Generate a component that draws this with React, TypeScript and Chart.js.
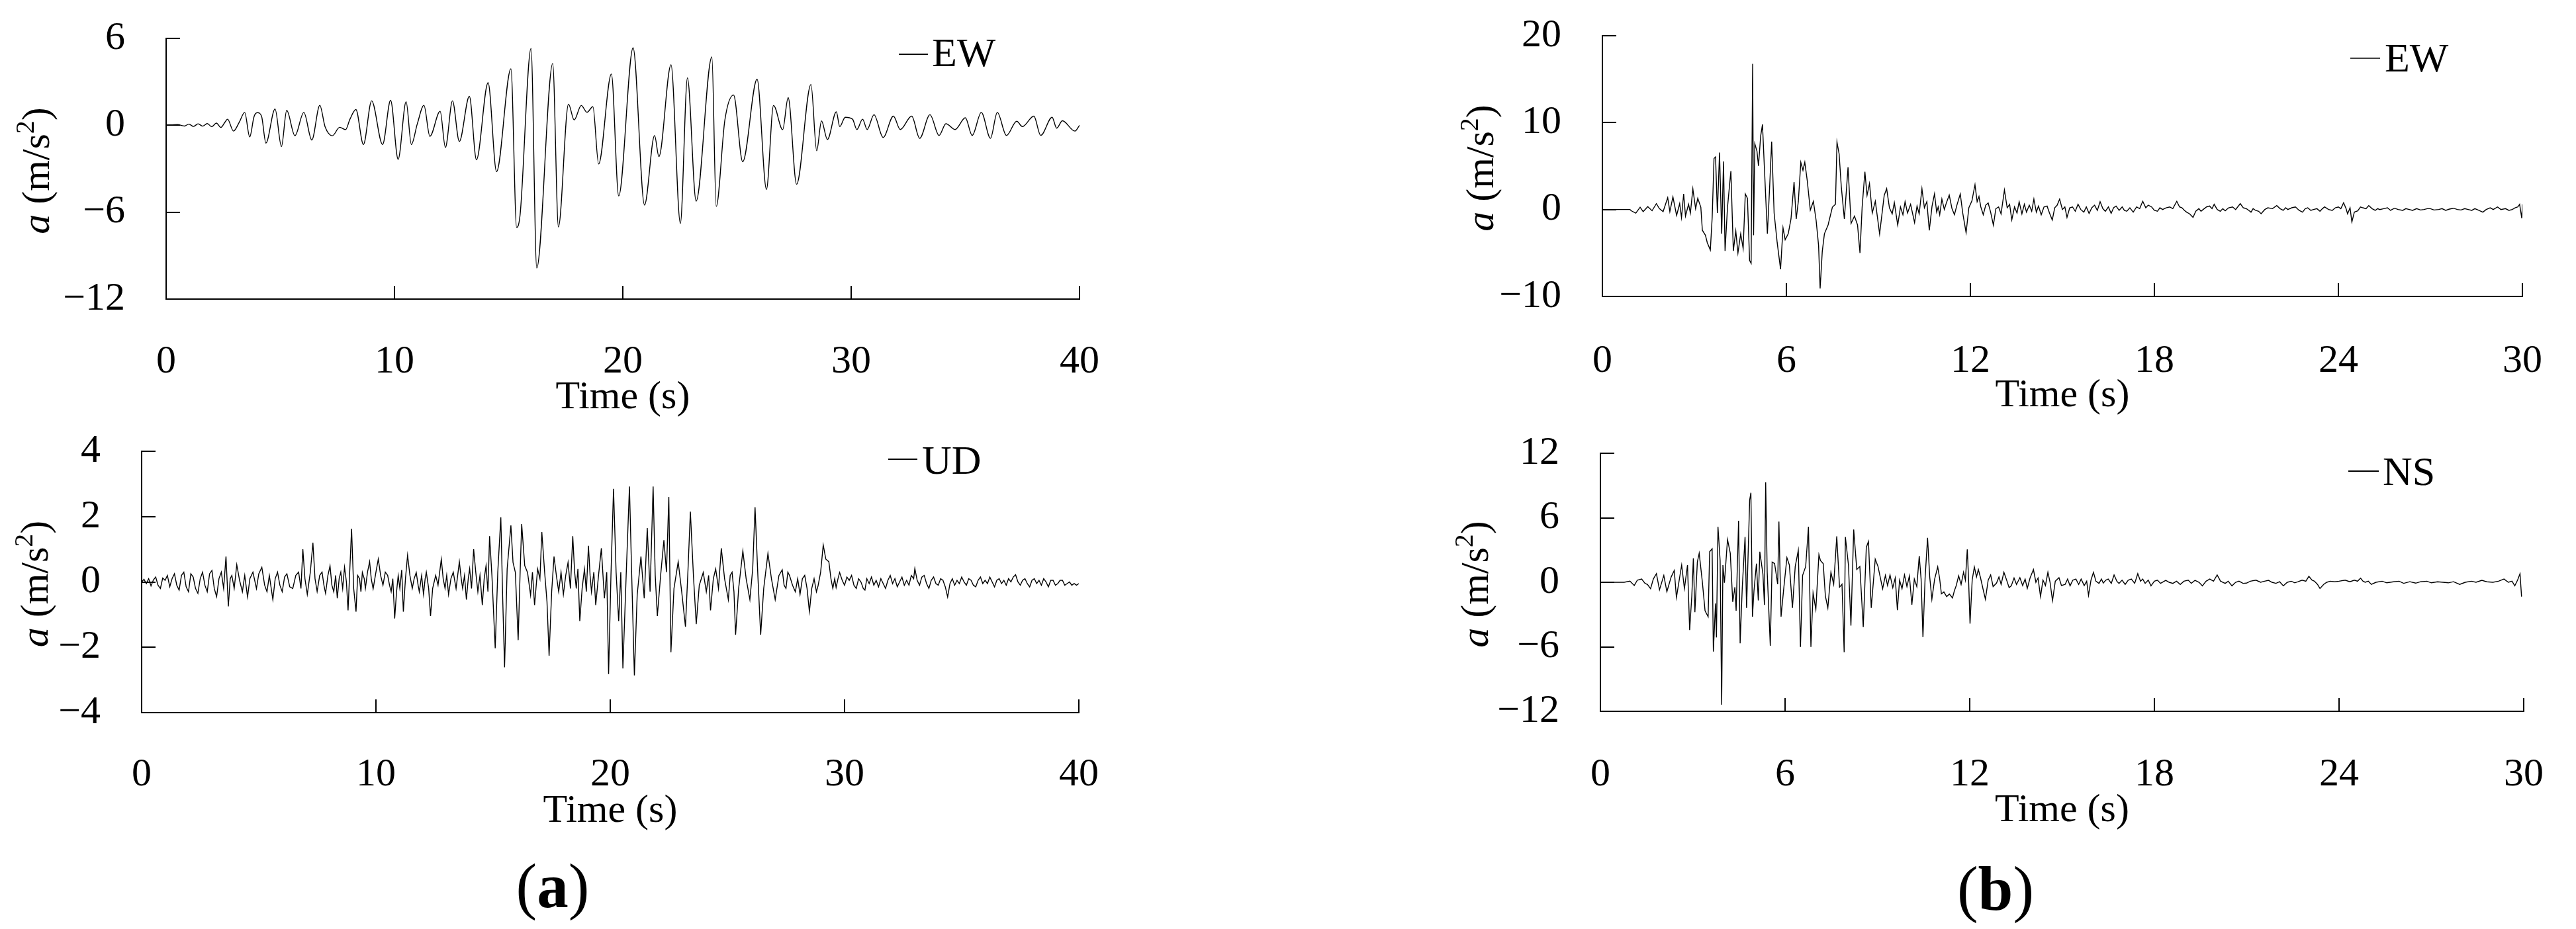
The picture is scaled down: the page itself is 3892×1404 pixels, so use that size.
import React, { useEffect, useRef } from 'react';
import { Chart, registerables } from 'chart.js';

Chart.register(...registerables);

const SERIF = "'Liberation Serif', 'Times New Roman', Times, serif";

// ---------- data: [time (s), acceleration (m/s^2)] ----------
const ewA: [number, number][] = [
  [0, 0], [0.5, 0.05], [0.8, -0.05], [1.0, 0.08], [1.2, -0.08], [1.4, 0.1], [1.6, -0.06], [1.8, 0.12], [2.0, -0.1],
  [2.2, 0.15], [2.4, -0.15], [2.57, 0.2], [2.69, 0.42], [2.95, -0.4], [3.2, 0.2], [3.44, 0.89], [3.66, -0.8], [3.85, 0.6],
  [4.0, 0.87], [4.18, 0.62], [4.37, -1.23], [4.77, 1.13], [5.05, -1.47], [5.28, 1.03], [5.64, -0.72], [6.03, 0.89],
  [6.38, -1.02], [6.73, 1.38], [6.96, -0.1], [7.28, -0.72], [7.6, -0.14], [7.86, -0.3], [8.05, 0.42], [8.31, 1.09],
  [8.64, -1.33], [9.0, 1.69], [9.48, -1.33], [9.83, 1.73], [10.16, -2.35], [10.51, 1.63], [10.74, -1.33], [11.0, 0.1],
  [11.29, 1.38], [11.55, -0.76], [12.0, 0.97], [12.23, -1.53], [12.54, 1.69], [12.84, -1.12], [13.28, 2.0], [13.59, -2.38],
  [14.1, 2.94], [14.47, -3.2], [15.1, 3.9], [15.35, -7.05], [15.5, -6.2], [15.98, 5.3], [16.23, -9.86], [16.93, 4.27],
  [17.18, -7.02], [17.62, 1.46], [17.87, 0.37], [18.18, 1.37], [18.43, 0.9], [18.69, 1.28], [18.94, -2.67], [19.5, 3.54],
  [19.82, -4.88], [20.45, 5.35], [20.95, -5.51], [21.39, -0.71], [21.58, -2.16], [22.11, 4.18], [22.52, -6.78],
  [22.83, 3.27], [23.21, -5.24], [23.9, 4.72], [24.09, -5.6], [24.47, 0.37], [24.85, 2.09], [25.25, -2.52], [25.88, 3.18],
  [26.29, -4.43], [26.6, 1.37], [27.0, -0.3], [27.24, 1.91], [27.61, -4.07], [28.24, 2.82], [28.49, -1.76], [28.7, 0.3],
  [28.96, -0.98], [29.35, 0.93], [29.5, -0.09], [29.74, 0.55], [30.06, 0.42], [30.25, -0.29], [30.5, 0.42], [30.7, -0.29],
  [31.0, 0.73], [31.4, -0.84], [31.85, 0.63], [32.15, -0.29], [32.65, 0.63], [33.0, -0.9], [33.45, 0.73], [33.85, -0.7],
  [34.15, 0.11], [34.55, -0.29], [35.0, 0.52], [35.3, -0.7], [35.7, 0.89], [36.1, -0.9], [36.4, 0.89], [36.8, -0.7],
  [37.25, 0.28], [37.5, -0.09], [38.0, 0.63], [38.3, -0.7], [38.8, 0.55], [39.0, -0.2], [39.25, 0.31], [39.8, -0.4], [40.0, 0.0],
];

const udA: [number, number][] = [
  [0, 0], [0.1, 0.08], [0.2, -0.05], [0.3, 0.1], [0.4, -0.12], [0.5, 0.06], [0.6, 0.15], [0.7, -0.1], [0.8, -0.2],
  [0.9, 0.12], [1.0, 0.05], [1.1, 0.2], [1.2, -0.15], [1.3, 0.1], [1.4, 0.25], [1.5, -0.1], [1.6, -0.25], [1.7, 0.2],
  [1.8, 0.3], [1.9, -0.15], [2.0, -0.3], [2.1, 0.25], [2.2, 0.15], [2.3, -0.2], [2.4, -0.35], [2.5, 0.1], [2.6, 0.3],
  [2.7, -0.1], [2.8, -0.3], [2.9, 0.25], [3.0, 0.35], [3.1, -0.2], [3.2, -0.45], [3.3, 0.1], [3.4, 0.3], [3.5, -0.2],
  [3.6, 0.78], [3.7, -0.75], [3.78, 0.1], [3.85, 0.2], [3.95, -0.2], [4.06, 0.53], [4.18, 0.05], [4.3, -0.3], [4.4, 0.2],
  [4.52, -0.46], [4.62, 0.1], [4.75, 0.3], [4.9, -0.2], [5.0, 0.25], [5.13, 0.45], [5.25, -0.1], [5.35, -0.3], [5.45, 0.2],
  [5.6, -0.54], [5.7, 0.1], [5.8, 0.3], [5.9, -0.1], [6.0, -0.3], [6.1, 0.15], [6.2, 0.25], [6.32, -0.15], [6.45, -0.2],
  [6.58, 0.2], [6.7, 0.3], [6.8, -0.2], [6.88, 1.0], [6.97, 0.1], [7.07, -0.38], [7.2, 0.3], [7.31, 1.2], [7.4, 0.1],
  [7.49, -0.29], [7.6, 0.2], [7.7, 0.3], [7.78, -0.1], [7.85, -0.35], [7.95, 0.2], [8.04, 0.49], [8.12, -0.1], [8.2, -0.3],
  [8.28, 0.2], [8.35, -0.5], [8.43, 0.1], [8.5, 0.3], [8.58, -0.2], [8.66, 0.45], [8.74, 0.0], [8.81, -0.87], [8.88, 0.3],
  [8.96, 1.63], [9.05, -0.2], [9.15, -0.91], [9.22, 0.2], [9.3, 0.1], [9.36, -0.3], [9.42, 0.29], [9.5, 0.1], [9.55, -0.2],
  [9.64, 0.3], [9.73, 0.62], [9.8, 0.1], [9.88, -0.21], [10.0, 0.3], [10.1, 0.7], [10.2, 0.2], [10.3, -0.1], [10.4, 0.3],
  [10.5, 0.2], [10.58, -0.1], [10.65, -0.3], [10.72, 0.1], [10.8, -1.12], [10.88, -0.3], [10.95, 0.2], [11.02, -0.2],
  [11.1, 0.37], [11.17, -0.91], [11.26, 0.1], [11.35, 0.82], [11.45, 0.2], [11.55, -0.2], [11.63, 0.1], [11.72, 0.29],
  [11.8, -0.1], [11.85, -0.3], [11.95, 0.2], [12.03, -0.38], [12.1, 0.1], [12.15, 0.3], [12.25, -0.2], [12.33, -1.04],
  [12.42, -0.2], [12.55, 0.2], [12.65, -0.1], [12.79, 0.7], [12.87, 0.1], [12.95, -0.2], [13.02, 0.2], [13.1, -0.38],
  [13.2, 0.1], [13.3, 0.3], [13.42, -0.2], [13.56, 0.62], [13.64, 0.1], [13.7, -0.2], [13.78, 0.2], [13.86, -0.54],
  [13.94, 0.1], [14.0, 0.4], [14.08, -0.2], [14.17, 1.0], [14.26, 0.3], [14.35, -0.3], [14.44, 0.2], [14.54, -0.71],
  [14.62, 0.1], [14.7, 0.5], [14.78, -0.3], [14.85, 1.4], [14.95, 0.2], [15.09, -2.03], [15.2, 0.3], [15.33, 1.98],
  [15.41, -0.5], [15.49, -2.61], [15.6, 0.4], [15.76, 1.73], [15.85, 0.6], [15.95, 0.29], [16.07, -1.78], [16.15, 0.2],
  [16.22, 1.77], [16.35, 0.5], [16.47, 0.29], [16.6, -0.4], [16.68, 0.3], [16.77, -0.71], [16.9, 0.4], [17.0, 0.1],
  [17.08, 1.53], [17.2, 0.3], [17.3, -0.6], [17.39, -2.26], [17.5, -0.3], [17.6, 0.78], [17.7, 0.2], [17.8, -0.3],
  [17.9, 0.3], [18.0, -0.38], [18.1, 0.2], [18.2, 0.6], [18.3, -0.2], [18.4, 1.4], [18.48, 0.3], [18.55, -0.2], [18.62, 0.4],
  [18.7, -1.2], [18.8, -0.2], [18.9, 0.4], [18.98, -0.3], [19.07, 1.11], [19.14, 0.2], [19.2, -0.3], [19.3, 0.3],
  [19.38, -0.71], [19.5, 0.2], [19.62, 1.03], [19.75, -0.5], [19.85, 0.3], [19.93, -2.82], [20.03, 0.2], [20.14, 2.85],
  [20.25, 0.3], [20.36, -1.2], [20.45, 0.3], [20.54, -2.65], [20.68, 0.2], [20.82, 2.92], [20.92, 0.1], [21.03, -2.86],
  [21.15, -0.4], [21.31, 0.78], [21.45, -0.5], [21.58, 1.65], [21.7, -0.3], [21.83, 2.92], [21.92, 0.2], [22.01, -1.04],
  [22.15, 0.2], [22.29, 1.28], [22.4, 0.3], [22.5, 2.6], [22.59, -2.15], [22.72, -0.2], [22.9, 0.62], [23.05, -0.3],
  [23.21, -1.37], [23.32, 0.4], [23.42, 2.15], [23.55, 0.2], [23.67, -1.29], [23.8, -0.1], [23.97, 0.29], [24.1, -0.3],
  [24.2, 0.2], [24.28, -0.87], [24.4, 0.1], [24.5, 0.4], [24.62, -0.2], [24.74, 1.03], [24.88, 0.1], [25.04, -0.54],
  [25.12, 0.2], [25.2, 0.3], [25.28, -0.3], [25.35, -1.62], [25.48, -0.2], [25.66, 0.95], [25.8, 0.1], [25.96, -0.54],
  [26.08, 0.4], [26.18, 2.29], [26.3, 0.2], [26.42, -1.62], [26.55, -0.2], [26.73, 0.87], [26.88, 0.1], [27.04, -0.54],
  [27.2, 0.2], [27.34, 0.37], [27.42, -0.1], [27.5, -0.2], [27.58, 0.3], [27.65, 0.2], [27.78, -0.1], [27.9, -0.3],
  [28.0, 0.1], [28.1, -0.38], [28.2, 0.1], [28.3, 0.2], [28.4, -0.2], [28.5, -0.91], [28.6, -0.2], [28.7, 0.1],
  [28.8, -0.3], [28.87, -0.12], [28.98, 0.3], [29.09, 1.13], [29.2, 0.7], [29.33, 0.62], [29.42, 0.1], [29.5, -0.2],
  [29.58, 0.1], [29.64, -0.17], [29.72, 0.1], [29.79, 0.29], [29.9, 0.05], [30.0, -0.1], [30.1, 0.15], [30.2, 0.05],
  [30.3, 0.2], [30.4, -0.1], [30.5, -0.2], [30.6, 0.1], [30.7, 0.0], [30.8, -0.2], [30.87, -0.25], [30.95, 0.1],
  [31.05, -0.05], [31.15, 0.15], [31.25, -0.1], [31.35, 0.05], [31.45, -0.15], [31.55, 0.1], [31.65, -0.05],
  [31.75, -0.2], [31.85, 0.05], [31.95, 0.2], [32.05, -0.05], [32.15, 0.1], [32.25, -0.15], [32.35, 0.0], [32.45, 0.15],
  [32.55, -0.1], [32.65, 0.05], [32.75, -0.1], [32.85, 0.2], [32.95, 0.1], [33.0, 0.41], [33.1, 0.05], [33.2, -0.1],
  [33.3, 0.15], [33.4, 0.2], [33.5, -0.05], [33.6, -0.2], [33.7, 0.05], [33.8, 0.15], [33.9, -0.05], [34.0, -0.1],
  [34.1, 0.1], [34.2, 0.05], [34.3, -0.15], [34.4, -0.46], [34.5, -0.05], [34.6, 0.1], [34.7, -0.1], [34.8, 0.05],
  [34.9, -0.05], [35.0, 0.15], [35.1, 0.0], [35.2, -0.1], [35.3, 0.1], [35.4, 0.05], [35.5, -0.1], [35.6, -0.15],
  [35.7, 0.05], [35.8, 0.15], [35.9, -0.05], [36.0, 0.05], [36.1, -0.05], [36.2, 0.15], [36.3, 0.0], [36.4, -0.15],
  [36.5, 0.05], [36.6, 0.1], [36.7, -0.05], [36.8, 0.05], [36.9, -0.1], [37.0, 0.1], [37.1, 0.0], [37.2, 0.15],
  [37.3, 0.22], [37.4, 0.0], [37.5, -0.1], [37.6, 0.05], [37.7, 0.1], [37.8, -0.05], [37.9, -0.15], [38.0, 0.05],
  [38.1, 0.1], [38.2, -0.05], [38.3, 0.05], [38.4, -0.1], [38.5, 0.1], [38.6, 0.0], [38.7, -0.15], [38.8, 0.05],
  [38.9, 0.05], [39.0, -0.1], [39.1, -0.05], [39.2, 0.05], [39.3, 0.05], [39.4, -0.1], [39.5, -0.05], [39.6, 0.0],
  [39.7, -0.1], [39.8, -0.05], [39.9, -0.1], [40.0, -0.05],
];

const ewB: [number, number][] = [
  [0, 0], [0.9, 0], [0.94, -0.14], [1.09, -0.41], [1.23, 0.27], [1.33, -0.24], [1.48, 0.34], [1.62, -0.14], [1.76, 0.68],
  [1.86, 0.1], [1.98, -0.24], [2.13, 1.36], [2.2, -0.24], [2.3, 1.46], [2.42, -0.68], [2.52, 0.68], [2.58, -0.92],
  [2.65, 1.8], [2.71, -0.75], [2.81, 0.61], [2.87, -0.41], [2.95, 2.38], [3.04, 0.1], [3.11, 1.29], [3.21, 0.27],
  [3.26, -2.38], [3.36, -2.96], [3.42, -3.81], [3.52, -4.66], [3.58, -0.92], [3.64, 5.88], [3.69, 6.05], [3.75, -0.41],
  [3.82, 6.56], [3.89, -2.79], [3.95, 5.54], [4.0, -4.76], [4.08, 0.27], [4.19, 4.42], [4.27, -4.76], [4.35, -2.45],
  [4.42, -5.0], [4.51, -2.79], [4.59, -4.49], [4.66, 1.8], [4.73, 1.29], [4.8, -5.85], [4.85, -6.19], [4.9, 16.76],
  [4.93, -2.96], [4.97, 7.58], [5.04, 6.73], [5.09, 5.03], [5.16, 8.43], [5.22, 9.79], [5.28, 5.03], [5.38, -2.79],
  [5.45, 2.31], [5.52, 7.82], [5.6, -0.41], [5.7, -3.81], [5.81, -6.87], [5.89, -2.11], [5.96, -3.47], [6.06, -2.79],
  [6.15, -1.09], [6.25, 3.16], [6.32, -1.09], [6.39, 0.95], [6.47, 5.44], [6.54, 4.52], [6.6, 5.44], [6.68, 3.33],
  [6.78, -0.07], [6.88, 0.95], [6.97, -1.26], [7.05, -4.15], [7.1, -9.08], [7.17, -4.83], [7.24, -2.79], [7.36, -1.77],
  [7.5, 0.27], [7.6, 0.61], [7.65, 7.75], [7.72, 6.39], [7.79, 2.65], [7.89, -1.09], [8.01, 4.86], [8.11, -1.6],
  [8.22, -0.75], [8.32, -1.77], [8.4, -5.0], [8.47, 0.27], [8.56, 4.35], [8.63, 1.63], [8.71, 2.99], [8.8, -0.41],
  [8.9, 0.95], [9.04, -2.79], [9.19, 1.63], [9.27, 2.4], [9.36, 0.2], [9.45, -0.5], [9.52, 0.8], [9.63, -1.8], [9.72, 0.3],
  [9.8, -0.6], [9.87, 0.9], [9.95, -0.4], [10.05, 0.6], [10.18, -1.5], [10.26, 0.4], [10.33, -0.5], [10.42, 2.4],
  [10.5, 0.2], [10.58, 0.9], [10.66, -2.4], [10.75, 0.4], [10.83, 1.8], [10.9, -0.3], [10.95, 0.3], [11.0, -0.6],
  [11.07, 1.2], [11.15, 0.0], [11.22, 0.8], [11.31, 1.66], [11.4, 0.1], [11.48, -0.6], [11.56, 0.5], [11.67, 1.8],
  [11.75, -0.4], [11.86, -2.67], [11.95, 0.2], [12.05, 1.0], [12.15, 2.85], [12.22, 0.9], [12.28, 1.5], [12.34, 0.3],
  [12.42, -0.6], [12.5, 0.5], [12.58, 0.75], [12.66, -0.3], [12.75, -1.8], [12.83, 0.1], [12.92, 0.3], [13.0, -0.5],
  [13.11, 2.24], [13.2, 0.2], [13.28, 0.6], [13.35, -1.2], [13.44, 0.3], [13.52, -0.4], [13.59, 0.9], [13.68, -0.5],
  [13.76, 0.6], [13.83, -0.3], [13.92, 0.5], [14.0, -0.2], [14.07, 1.2], [14.15, -0.3], [14.22, 0.4], [14.31, -0.6],
  [14.4, 0.3], [14.5, 0.4], [14.58, -0.4], [14.67, -1.2], [14.75, 0.2], [14.83, 0.5], [14.91, 1.2], [15.0, 0.0],
  [15.08, 0.3], [15.15, -0.9], [15.24, 0.2], [15.33, 0.3], [15.42, -0.2], [15.51, 0.6], [15.6, 0.0], [15.7, -0.3],
  [15.78, 0.3], [15.87, -0.45], [15.96, 0.2], [16.05, 0.5], [16.14, -0.1], [16.23, 0.9], [16.32, 0.1], [16.4, -0.2],
  [16.5, 0.3], [16.59, -0.45], [16.67, 0.2], [16.75, 0.4], [16.85, -0.1], [16.95, 0.3], [17.02, -0.1], [17.1, -0.2],
  [17.2, 0.2], [17.31, -0.3], [17.42, 0.3], [17.52, 0.1], [17.62, 0.95], [17.72, 0.2], [17.8, 0.5], [17.91, 0.3],
  [18.0, -0.1], [18.1, -0.2], [18.18, 0.2], [18.27, 0.0], [18.38, 0.2], [18.5, 0.3], [18.6, 0.1], [18.73, 0.95],
  [18.82, 0.3], [18.9, 0.2], [18.98, -0.1], [19.05, -0.3], [19.15, -0.5], [19.26, -0.9], [19.35, -0.2], [19.45, 0.1],
  [19.52, -0.2], [19.59, 0.0], [19.7, 0.3], [19.8, 0.4], [19.88, 0.1], [19.95, 0.6], [20.05, 0.0], [20.15, -0.2],
  [20.23, 0.1], [20.31, -0.15], [20.42, 0.2], [20.55, 0.3], [20.65, 0.0], [20.8, 0.68], [20.9, 0.2], [21.0, 0.1],
  [21.08, -0.1], [21.15, -0.3], [21.22, 0.1], [21.3, -0.1], [21.4, -0.2], [21.48, -0.48], [21.6, 0.0], [21.7, 0.2],
  [21.85, 0.1], [21.99, 0.45], [22.1, 0.1], [22.2, -0.1], [22.28, 0.2], [22.35, 0.0], [22.48, 0.2], [22.6, 0.3],
  [22.72, -0.1], [22.83, -0.3], [22.92, 0.1], [23.0, 0.2], [23.1, -0.1], [23.19, 0.0], [23.3, 0.1], [23.4, -0.2],
  [23.48, 0.1], [23.55, 0.3], [23.68, 0.0], [23.8, -0.1], [23.9, 0.2], [24.0, 0.3], [24.08, 0.1], [24.17, 0.78],
  [24.25, 0.1], [24.3, -0.5], [24.38, 0.2], [24.44, -1.44], [24.52, -0.3], [24.63, -0.15], [24.72, 0.3], [24.8, 0.2],
  [24.9, 0.1], [24.99, 0.45], [25.1, 0.1], [25.2, -0.1], [25.28, 0.1], [25.35, 0.0], [25.48, 0.1], [25.6, 0.2],
  [25.7, -0.1], [25.83, 0.15], [25.95, 0.0], [26.1, -0.1], [26.2, 0.1], [26.31, 0.0], [26.42, -0.1], [26.55, 0.1],
  [26.68, -0.05], [26.79, 0.0], [26.9, 0.1], [27.0, 0.1], [27.12, -0.05], [27.27, 0.0], [27.38, 0.1], [27.5, -0.1],
  [27.62, 0.05], [27.75, 0.15], [27.88, 0.0], [28.0, -0.05], [28.12, 0.1], [28.23, 0.0], [28.35, -0.1], [28.45, 0.1],
  [28.58, -0.1], [28.71, -0.3], [28.82, 0.0], [28.95, 0.2], [29.05, 0.0], [29.19, 0.3], [29.3, 0.0], [29.45, 0.1],
  [29.56, -0.1], [29.67, 0.0], [29.76, 0.2], [29.85, 0.3], [29.91, 0.6], [29.98, -1.0], [30.0, 0.6],
];

const nsB: [number, number][] = [
  [0, 0], [0.77, 0], [0.96, 0.1], [1.1, -0.3], [1.2, 0.2], [1.34, 0.3], [1.45, -0.1], [1.53, -0.2], [1.63, -0.6],
  [1.72, 0.3], [1.82, 0.8], [1.92, -0.7], [2.06, 0.64], [2.16, -0.87], [2.3, 0.5], [2.4, 1.1], [2.47, -1.42], [2.57, 0.37],
  [2.64, 1.6], [2.73, -0.6], [2.83, 1.6], [2.9, -4.44], [2.97, -1.28], [3.02, 2.23], [3.07, -2.79], [3.15, 1.88],
  [3.21, 2.7], [3.31, 0.1], [3.4, -2.65], [3.5, -3.2], [3.55, 2.84], [3.63, 3.11], [3.67, -6.45], [3.74, -1.97],
  [3.77, -5.13], [3.82, 5.17], [3.89, 2.02], [3.94, -11.39], [3.98, 1.6], [4.03, -0.05], [4.13, 3.99], [4.22, 2.7],
  [4.3, -1.83], [4.37, -0.46], [4.41, -2.65], [4.49, 5.72], [4.54, -5.68], [4.61, -0.46], [4.7, 4.21], [4.75, -2.38],
  [4.85, 7.65], [4.89, 8.33], [4.94, -3.2], [4.99, -0.79], [5.07, 1.74], [5.13, -1.69], [5.18, 2.84], [5.28, 0.78],
  [5.33, -2.11], [5.37, 9.29], [5.42, 0.92], [5.52, -5.9], [5.58, 1.88], [5.66, 1.74], [5.76, -0.18], [5.8, 5.64],
  [5.87, -3.2], [5.95, -0.79], [6.06, 2.29], [6.14, 1.6], [6.24, -2.38], [6.33, 1.47], [6.43, 2.98], [6.5, -6.01],
  [6.57, 0.64], [6.67, 1.47], [6.76, 5.17], [6.84, -6.01], [6.91, -1.01], [7.0, -2.52], [7.1, 2.57], [7.15, 2.02],
  [7.24, 1.74], [7.31, -1.28], [7.39, -2.38], [7.49, 0.92], [7.58, -0.18], [7.68, 4.27], [7.77, -0.46], [7.85, -0.18],
  [7.92, -6.5], [7.96, 4.21], [8.06, 1.6], [8.14, -4.03], [8.23, 4.9], [8.33, 1.19], [8.43, 1.47], [8.54, -4.17],
  [8.64, 3.25], [8.71, 3.8], [8.8, -2.38], [8.93, 2.15], [9.02, 1.47], [9.17, -0.6], [9.26, 0.64], [9.33, -0.3],
  [9.41, 0.68], [9.5, -0.5], [9.58, 0.4], [9.65, -2.59], [9.72, 0.2], [9.8, -0.6], [9.88, 0.68], [9.96, -0.4], [10.04, 0.6],
  [10.12, -2.09], [10.2, 0.3], [10.28, -0.4], [10.36, 2.44], [10.42, 0.3], [10.48, -5.1], [10.55, 0.4], [10.63, 4.14],
  [10.7, 0.5], [10.77, -1.58], [10.86, 0.3], [10.96, 1.43], [11.02, 0.4], [11.08, -1.08], [11.16, -0.9], [11.25, -1.33],
  [11.34, -1.1], [11.44, -1.46], [11.5, -0.8], [11.56, -0.33], [11.64, 0.6], [11.72, -0.2], [11.8, 0.93], [11.86, 0.2],
  [11.92, 3.06], [11.96, 0.5], [12.01, -3.84], [12.08, 0.2], [12.15, 1.43], [12.22, 0.5], [12.28, 1.2], [12.35, 0.43],
  [12.43, -0.6], [12.51, -1.58], [12.6, 0.2], [12.68, 0.68], [12.76, -0.4], [12.87, -0.08], [12.95, 0.5], [13.02, -0.2],
  [13.11, 0.93], [13.2, 0.2], [13.28, -0.5], [13.35, -0.33], [13.44, 0.4], [13.52, -0.2], [13.63, 0.43], [13.72, -0.3],
  [13.8, 0.3], [13.87, -0.58], [13.96, 0.4], [14.07, 1.18], [14.15, 0.0], [14.22, 0.4], [14.3, -1.33], [14.38, 0.2],
  [14.46, -0.3], [14.54, 0.93], [14.61, 0.0], [14.69, -1.71], [14.78, 0.1], [14.9, 0.43], [14.98, -0.3], [15.1, -0.2],
  [15.18, 0.3], [15.26, -0.33], [15.35, 0.2], [15.45, 0.3], [15.54, -0.2], [15.62, 0.3], [15.72, -0.3], [15.8, 0.1],
  [15.86, -1.21], [15.94, 0.2], [16.02, 0.93], [16.1, 0.1], [16.2, -0.1], [16.28, 0.3], [16.34, -0.08], [16.42, 0.2],
  [16.5, 0.3], [16.6, -0.1], [16.69, 0.68], [16.78, 0.1], [16.85, -0.1], [16.95, 0.2], [17.05, -0.2], [17.15, 0.2],
  [17.25, 0.3], [17.36, -0.1], [17.46, 0.8], [17.55, 0.1], [17.62, 0.3], [17.7, -0.1], [17.8, 0.2], [17.89, -0.33],
  [18.0, 0.1], [18.1, 0.2], [18.2, -0.1], [18.37, 0.18], [18.48, 0.0], [18.6, -0.1], [18.72, 0.1], [18.84, -0.2],
  [18.96, 0.1], [19.1, 0.2], [19.2, -0.1], [19.32, 0.18], [19.45, 0.0], [19.56, -0.33], [19.68, 0.1], [19.8, 0.3],
  [19.92, 0.1], [20.04, 0.68], [20.15, 0.1], [20.3, -0.1], [20.4, 0.1], [20.52, -0.33], [20.64, 0.0], [20.75, 0.1],
  [20.88, -0.1], [20.99, -0.08], [21.12, 0.1], [21.3, 0.2], [21.45, 0.0], [21.58, 0.1], [21.71, 0.18], [21.82, 0.0],
  [21.95, -0.1], [22.07, 0.05], [22.19, -0.33], [22.32, 0.0], [22.45, 0.1], [22.56, -0.05], [22.67, 0.05], [22.8, 0.2],
  [22.92, 0.1], [23.02, 0.55], [23.12, 0.2], [23.2, 0.1], [23.3, -0.2], [23.38, -0.58], [23.5, -0.2], [23.6, 0.0],
  [23.72, 0.1], [23.86, 0.05], [24.0, 0.1], [24.2, 0.2], [24.35, 0.05], [24.5, 0.2], [24.6, 0.1], [24.7, 0.38],
  [24.78, 0.1], [24.85, 0.0], [24.95, 0.1], [25.05, -0.2], [25.2, 0.0], [25.4, 0.1], [25.55, -0.05], [25.77, 0.05],
  [25.95, 0.1], [26.1, -0.1], [26.3, 0.05], [26.49, -0.08], [26.65, 0.05], [26.85, 0.1], [27.0, -0.05], [27.2, 0.05],
  [27.38, 0.0], [27.55, -0.05], [27.72, 0.05], [27.92, -0.2], [28.1, 0.0], [28.3, 0.1], [28.45, 0.0], [28.64, 0.18],
  [28.8, 0.05], [29.0, 0.0], [29.18, 0.1], [29.36, 0.3], [29.5, 0.0], [29.62, 0.1], [29.71, -0.33], [29.8, 0.2],
  [29.88, 0.8], [29.93, -1.33],
];

// ---------- tick labels ----------
const xTicksA = [0, 10, 20, 30, 40];
const xTicksB = [0, 6, 12, 18, 24, 30];
const yTicksEwA = [-12, -6, 0, 6];
const yTicksUdA = [-4, -2, 0, 2, 4];
const yTicksEwB = [-10, 0, 10, 20];
const yTicksNsB = [-12, -6, 0, 6, 12];

interface PanelCfg {
  key: string; label: string; data: [number, number][]; xTicks: number[]; yTicks: number[]; smooth: boolean;
  left: number; top: number; w: number; h: number;
  padTop: number; padRight: number; yWidth: number; xHeight: number;
  xTickPad: number; xTitlePad: number; yTitleX: number;
  leg: { line1: number; line2: number; lineY: number; text: number; textY: number; lw: number };
}

const panels: PanelCfg[] = [
  { key: 'ewA', label: 'EW', data: ewA, xTicks: xTicksA, yTicks: yTicksEwA, smooth: true,
    left: 0, top: 0, w: 1760, h: 660, padTop: 58, padRight: 129, yWidth: 251, xHeight: 208,
    xTickPad: 59, xTitlePad: 23, yTitleX: 54,
    leg: { line1: 273, line2: 229, lineY: 24, text: 223, textY: 26, lw: 2 } },
  { key: 'udA', label: 'UD', data: udA, xTicks: xTicksA, yTicks: yTicksUdA, smooth: false,
    left: 0, top: 600, w: 1760, h: 700, padTop: 82, padRight: 130, yWidth: 214, xHeight: 223,
    xTickPad: 58, xTitlePad: 38, yTitleX: 52,
    leg: { line1: 288, line2: 244, lineY: 12, text: 237, textY: 18, lw: 2 } },
  { key: 'ewB', label: 'EW', data: ewB, xTicks: xTicksB, yTicks: yTicksEwB, smooth: false,
    left: 2150, top: 0, w: 1742, h: 660, padTop: 54, padRight: 81, yWidth: 271, xHeight: 212,
    xTickPad: 62, xTitlePad: 26, yTitleX: 86,
    leg: { line1: 260, line2: 215, lineY: 34, text: 208, textY: 38, lw: 1.5 } },
  { key: 'nsB', label: 'NS', data: nsB, xTicks: xTicksB, yTicks: yTicksNsB, smooth: false,
    left: 2150, top: 600, w: 1742, h: 700, padTop: 85, padRight: 79, yWidth: 268, xHeight: 225,
    xTickPad: 60, xTitlePad: 39, yTitleX: 78,
    leg: { line1: 265, line2: 219, lineY: 27, text: 213, textY: 32, lw: 2 } },
];

const fmt = (v: number | string) => {
  const n = Number(v);
  return n < 0 ? '\u2212' + Math.abs(n) : String(n);
};

function decorPlugin(p: PanelCfg) {
  return {
    id: 'decor_' + p.key,
    afterDraw(chart: any) {
      const { ctx, chartArea: ca, scales } = chart;
      const xs = scales.x, ys = scales.y;
      ctx.save();
      ctx.strokeStyle = '#000';
      ctx.lineWidth = 2;
      ctx.beginPath();
      for (const t of xs.ticks) {
        const px = Math.round(xs.getPixelForValue(t.value));
        ctx.moveTo(px, ca.bottom);
        ctx.lineTo(px, ca.bottom - 20);
      }
      for (const t of ys.ticks) {
        const py = Math.round(ys.getPixelForValue(t.value));
        ctx.moveTo(ca.left, py);
        ctx.lineTo(ca.left + 21, py);
      }
      ctx.stroke();

      // legend
      ctx.lineWidth = p.leg.lw;
      ctx.beginPath();
      ctx.moveTo(ca.right - p.leg.line1, ca.top + p.leg.lineY);
      ctx.lineTo(ca.right - p.leg.line2, ca.top + p.leg.lineY);
      ctx.stroke();
      ctx.fillStyle = '#000';
      ctx.font = `62px ${SERIF}`;
      ctx.textAlign = 'left';
      ctx.textBaseline = 'middle';
      ctx.fillText(p.label, ca.right - p.leg.text, ca.top + p.leg.textY);

      // y axis title: a (m/s²)
      const segs = [
        { t: 'a', f: `italic 60px ${SERIF}`, dy: 0 },
        { t: ' (m/s', f: `60px ${SERIF}`, dy: 0 },
        { t: '2', f: `40px ${SERIF}`, dy: -23 },
        { t: ')', f: `60px ${SERIF}`, dy: 0 },
      ];
      let total = 0;
      const widths = segs.map((s) => { ctx.font = s.f; const w = ctx.measureText(s.t).width; total += w; return w; });
      ctx.translate(p.yTitleX, (ca.top + ca.bottom) / 2 + 3);
      ctx.rotate(-Math.PI / 2);
      ctx.textBaseline = 'alphabetic';
      let x = -total / 2;
      segs.forEach((s, i) => {
        ctx.font = s.f;
        ctx.fillText(s.t, x, 20 + s.dy);
        x += widths[i];
      });
      ctx.restore();
    },
  };
}

function makeConfig(p: PanelCfg): any {
  const font = { family: SERIF, size: 60 };
  return {
    type: 'line',
    data: {
      datasets: [{
        label: p.label,
        data: p.data.map(([x, y]) => ({ x, y })),
        borderColor: '#000',
        borderWidth: 1.4,
        pointRadius: 0,
        fill: false,
        tension: p.smooth ? 0.4 : 0,
        cubicInterpolationMode: p.smooth ? 'monotone' : 'default',
      }],
    },
    options: {
      animation: false,
      responsive: false,
      maintainAspectRatio: false,
      devicePixelRatio: 1,
      events: [],
      layout: { autoPadding: false, padding: { top: p.padTop, right: p.padRight, left: 0, bottom: 0 } },
      plugins: { legend: { display: false }, tooltip: { enabled: false }, title: { display: false } },
      scales: {
        x: {
          type: 'linear',
          position: 'bottom',
          min: p.xTicks[0],
          max: p.xTicks[p.xTicks.length - 1],
          afterBuildTicks: (s: any) => { s.ticks = p.xTicks.map((v) => ({ value: v })); },
          ticks: { font, color: '#000', padding: p.xTickPad, maxRotation: 0, autoSkip: false, callback: fmt },
          grid: { display: false, drawTicks: false },
          border: { display: true, color: '#000', width: 2 },
          title: { display: true, text: 'Time (s)', font, color: '#000', padding: { top: 0, bottom: p.xTitlePad } },
          afterFit: (s: any) => { s.height = p.xHeight; s.paddingLeft = 0; s.paddingRight = 0; },
        },
        y: {
          type: 'linear',
          position: 'left',
          min: p.yTicks[0],
          max: p.yTicks[p.yTicks.length - 1],
          afterBuildTicks: (s: any) => { s.ticks = p.yTicks.map((v) => ({ value: v })); },
          ticks: { font, color: '#000', padding: 62, autoSkip: false, callback: fmt },
          grid: { display: false, drawTicks: false },
          border: { display: true, color: '#000', width: 2 },
          afterFit: (s: any) => { s.width = p.yWidth; s.paddingTop = 0; s.paddingBottom = 0; },
        },
      },
    },
    plugins: [decorPlugin(p)],
  };
}

function Panel({ p }: { p: PanelCfg }) {
  const ref = useRef<HTMLCanvasElement>(null);
  useEffect(() => {
    const chart = new Chart(ref.current as HTMLCanvasElement, makeConfig(p));
    return () => chart.destroy();
  }, [p]);
  return (
    <canvas
      ref={ref}
      width={p.w}
      height={p.h}
      style={{ position: 'absolute', left: p.left, top: p.top, width: p.w, height: p.h, display: 'block' }}
    />
  );
}

const subLabel: React.CSSProperties = {
  position: 'absolute', width: 300, textAlign: 'center', fontFamily: SERIF, fontSize: 95, lineHeight: 1, color: '#000',
};

export default function App() {
  return (
    <div style={{ position: 'absolute', left: 0, top: 0, width: 3892, height: 1404, background: '#fff', overflow: 'hidden' }}>
      {panels.map((p) => <Panel key={p.key} p={p} />)}
      <div style={{ ...subLabel, left: 835 - 150, top: 1292 }}>(<b>a</b>)</div>
      <div style={{ ...subLabel, left: 3015 - 150, top: 1296 }}>(<b>b</b>)</div>
    </div>
  );
}
